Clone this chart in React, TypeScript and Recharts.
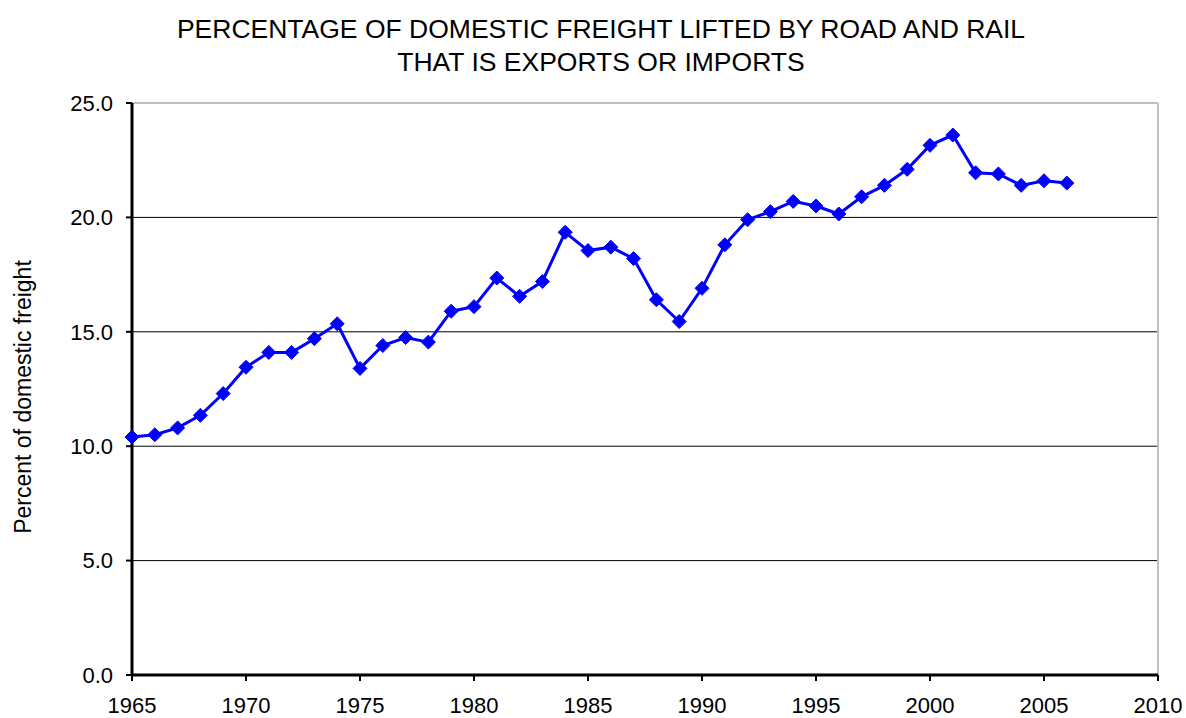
import React from "react";
import { LineChart, Line, XAxis, YAxis, CartesianGrid, ReferenceLine } from "recharts";

const years = [1965,1966,1967,1968,1969,1970,1971,1972,1973,1974,1975,1976,1977,1978,1979,1980,1981,1982,1983,1984,1985,1986,1987,1988,1989,1990,1991,1992,1993,1994,1995,1996,1997,1998,1999,2000,2001,2002,2003,2004,2005,2006];
const percentValues = [10.4,10.5,10.8,11.35,12.3,13.45,14.1,14.1,14.7,15.35,13.4,14.4,14.75,14.55,15.9,16.1,17.35,16.55,17.2,19.35,18.55,18.7,18.2,16.4,15.45,16.9,18.8,19.9,20.25,20.7,20.5,20.15,20.9,21.4,22.1,23.15,23.6,21.95,21.9,21.4,21.6,21.5];
const xTicks = [1965,1970,1975,1980,1985,1990,1995,2000,2005,2010];
const yTicks = [0,5,10,15,20,25];
const titleLines = ["PERCENTAGE OF DOMESTIC FREIGHT LIFTED BY ROAD AND RAIL", "THAT IS EXPORTS OR IMPORTS"];
const yLabel = "Percent of domestic freight";

const data = years.map((y, i) => ({ year: y, value: percentValues[i] }));

const FONT = "'Liberation Sans', Arial, sans-serif";

const Diamond = (props: any) => {
  const { cx, cy } = props;
  if (cx == null || cy == null) return null;
  const r = 7;
  return (
    <polygon
      points={`${cx},${cy - r} ${cx + r},${cy} ${cx},${cy + r} ${cx - r},${cy}`}
      fill="#0000ff"
      stroke="#0000ff"
      strokeWidth={1}
    />
  );
};

export default function App() {
  return (
    <div style={{ position: "absolute", left: 0, top: 0, width: 1186, height: 718, background: "#fff", fontFamily: FONT }}>
      <div style={{ position: "absolute", left: 0, top: 13, width: 1202, textAlign: "center", fontSize: 26.5, lineHeight: "33px", color: "#000" }}>
        {titleLines.map((t) => (
          <div key={t}>{t}</div>
        ))}
      </div>
      <div
        style={{
          position: "absolute",
          left: 23,
          top: 397,
          transform: "translate(-50%, -50%) rotate(-90deg)",
          whiteSpace: "nowrap",
          fontSize: 23,
          color: "#000",
        }}
      >
        {yLabel}
      </div>
      <LineChart
        width={1186}
        height={718}
        data={data}
        margin={{ top: 103, right: 28, bottom: 13, left: 62 }}
        style={{ fontSize: 22 }}
      >
        <CartesianGrid vertical={false} horizontalValues={[5, 10, 15, 20]} stroke="#000" strokeWidth={1} />
        <ReferenceLine y={25} stroke="#c0c0c0" strokeWidth={2} />
        <ReferenceLine x={2010} stroke="#c0c0c0" strokeWidth={2} />
        <XAxis
          dataKey="year"
          type="number"
          domain={[1965, 2010]}
          ticks={xTicks}
          interval={0}
          stroke="#000"
          strokeWidth={3}
          tickSize={6}
          tickMargin={16}
          fontSize={22}
          tick={{ fill: "#000", fontSize: 22, fontFamily: FONT }}
          tickLine={{ stroke: "#000", strokeWidth: 2 }}
        />
        <YAxis
          type="number"
          domain={[0, 25]}
          ticks={yTicks}
          interval={0}
          width={70}
          stroke="#000"
          strokeWidth={3}
          tickSize={6}
          tickMargin={13}
          fontSize={22}
          tickFormatter={(v: number) => v.toFixed(1)}
          tick={{ fill: "#000", fontSize: 22, fontFamily: FONT }}
          tickLine={{ stroke: "#000", strokeWidth: 2 }}
        />
        <Line
          type="linear"
          dataKey="value"
          stroke="#0000ff"
          strokeWidth={3}
          dot={<Diamond />}
          activeDot={false}
          isAnimationActive={false}
        />
      </LineChart>
    </div>
  );
}
